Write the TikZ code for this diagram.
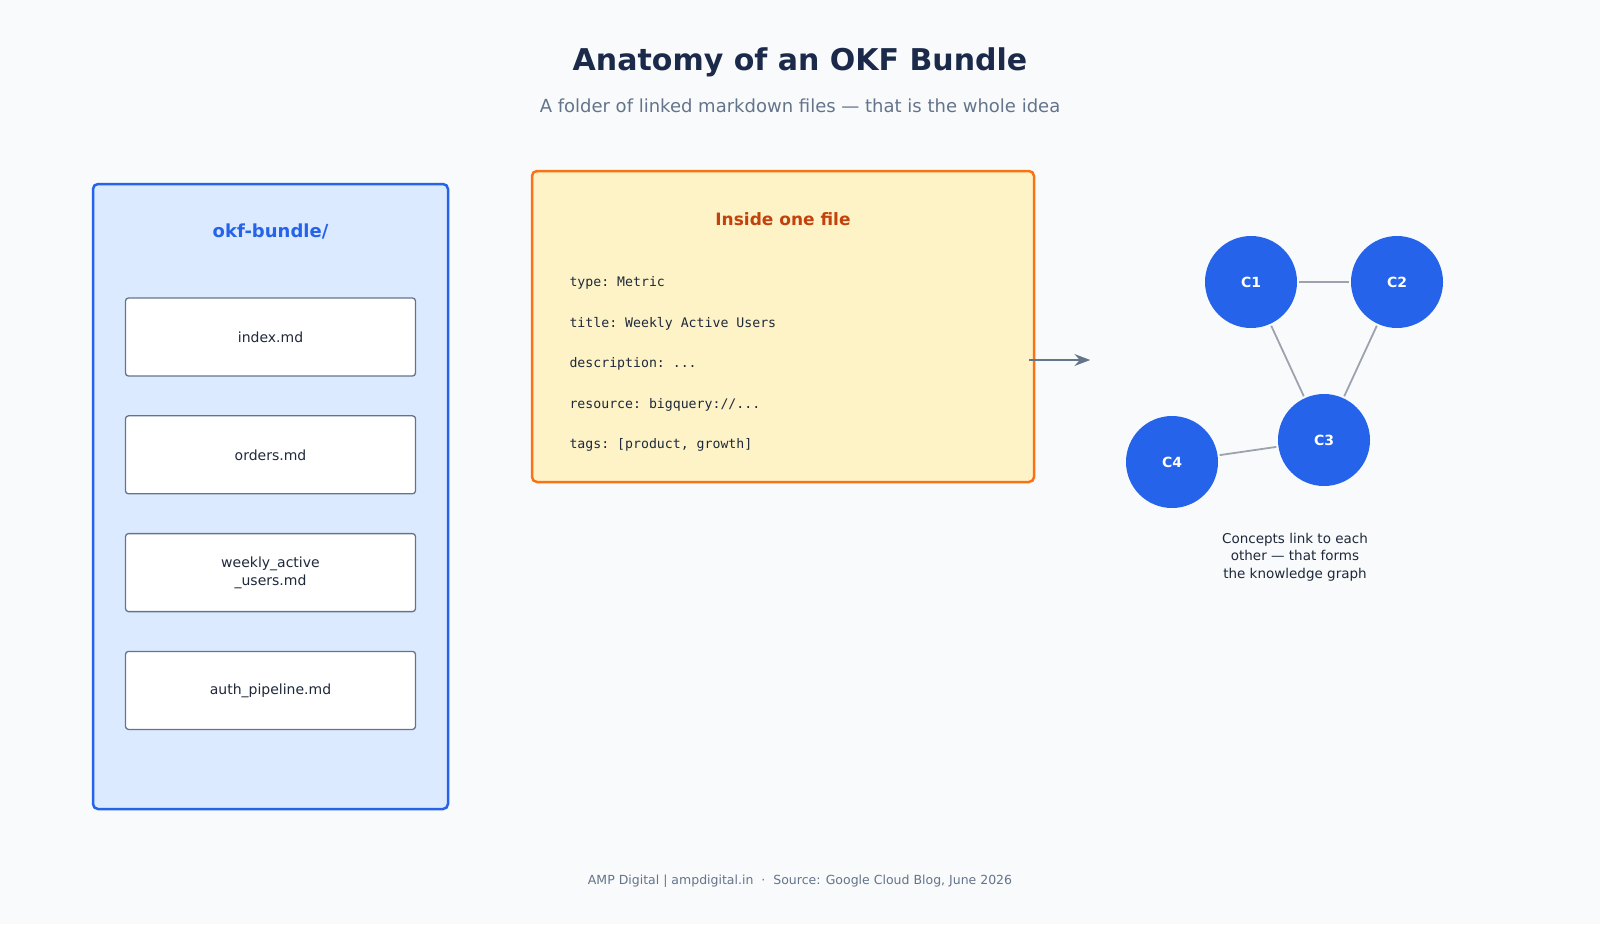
\documentclass[tikz,border=0pt]{standalone}
\usepackage{fontspec}
\setmainfont{DejaVu Sans}
\setmonofont{DejaVu Sans Mono}
\usetikzlibrary{arrows.meta, positioning, calc}

\definecolor{pagebg}{HTML}{F9FAFB}
\definecolor{ink}{HTML}{1E293B}
\definecolor{navy}{HTML}{1B2A4A}
\definecolor{slate}{HTML}{64748B}
\definecolor{blueline}{HTML}{2563EB}
\definecolor{bluefill}{HTML}{DBEAFE}
\definecolor{amberfill}{HTML}{FEF3C7}
\definecolor{orangeline}{HTML}{F97316}
\definecolor{rust}{HTML}{C2410C}
\definecolor{edgegray}{HTML}{9CA3AF}

\begin{document}
\begin{tikzpicture}[
  x=1pt, y=-1pt,
  >=Stealth,
  every node/.style = {text=ink},
  %-- panel styles -------------------------------------------------------
  folderbox/.style = {draw=blueline, line width=2.5pt, rounded corners=5pt,
                      fill=bluefill, minimum width=355pt, minimum height=625pt},
  filebox/.style   = {draw=slate, line width=1.3pt, rounded corners=3pt,
                      fill=white, minimum width=290pt, minimum height=78pt,
                      align=center, font=\fontsize{14}{17.5}\selectfont},
  insidebox/.style = {draw=orangeline, line width=2.5pt, rounded corners=5pt,
                      fill=amberfill, minimum width=502pt, minimum height=311pt},
  codeline/.style  = {anchor=west, font=\ttfamily\fontsize{13.2}{17}\selectfont},
  concept/.style   = {circle, fill=blueline, inner sep=0pt, minimum size=92pt,
                      text=white, font=\bfseries\fontsize{14}{17}\selectfont},
  link/.style      = {draw=edgegray, line width=1.8pt, shorten <=2pt, shorten >=2pt},
  arrow/.style     = {->, draw=slate, line width=2.8pt},
]

% ── canvas ────────────────────────────────────────────────────────────────────
\useasboundingbox[fill=pagebg] (0,0) rectangle (1600,924);

% ── heading ──────────────────────────────────────────────────────────────────
\node[text=navy, font=\bfseries\fontsize{30}{36}\selectfont] (title) at (800,62)
  {Anatomy of an OKF Bundle};
\node[text=slate, font=\fontsize{18}{22}\selectfont] (subtitle) at (800,106)
  {A folder of linked markdown files — that is the whole idea};

% ── bundle folder ────────────────────────────────────────────────────────────
\node[folderbox] (bundle) at (270.5,496.5) {};
\node[text=blueline, font=\bfseries\fontsize{18}{22}\selectfont] (bundlelab)
  at (270.5,231) {okf-bundle/};

\node[filebox] (index) at (270.5,337) {index.md};
\node[filebox, below=38.5pt of index] (orders) {orders.md};
\node[filebox, below=38.5pt of orders] (wau) {weekly\_active\\\_users.md};
\node[filebox, below=38.5pt of wau] (auth) {auth\_pipeline.md};

% ── one file, opened ─────────────────────────────────────────────────────────
\node[insidebox] (file) at (783,326.5) {};
\node[text=rust, font=\bfseries\fontsize{17}{21}\selectfont] (filelab)
  at (783,219) {Inside one file};

\node[codeline] (ftype)  at (566,283) {type: Metric};
\node[codeline] (ftitle) at (566,323.5) {title: Weekly Active Users};
\node[codeline] (fdesc)  at (566,364) {description: ...};
\node[codeline] (fres)   at (566,404.5) {resource: bigquery://...};
\node[codeline] (ftags)  at (566,445) {tags: [product, growth]};

% ── file → graph ─────────────────────────────────────────────────────────────
\coordinate (arrowfrom) at ($(file.east|-fdesc)+(-6,-4)$);
\coordinate (arrowto)   at ($(arrowfrom)+(61,0)$);
\draw[arrow] (arrowfrom) -- (arrowto);

% ── concept graph ────────────────────────────────────────────────────────────
\node[concept] (c1) at (1251,282) {C1};
\node[concept] (c2) at (1397,282) {C2};
\node[concept] (c3) at (1324,440) {C3};
\node[concept] (c4) at (1172,462) {C4};

\draw[link] (c1) -- (c2);
\draw[link] (c1) -- (c3);
\draw[link] (c2) -- (c3);
\draw[link] (c3) -- (c4);

\node[align=center, font=\fontsize{13.5}{17.5}\selectfont] (graphnote)
  at (1295,557) {Concepts link to each\\other — that forms\\the knowledge graph};

% ── footer ───────────────────────────────────────────────────────────────────
\node[text=slate, font=\fontsize{12.5}{16}\selectfont] (footer) at (800,881)
  {AMP Digital | ampdigital.in \ · \ Source: Google Cloud Blog, June 2026};

\end{tikzpicture}
\end{document}
